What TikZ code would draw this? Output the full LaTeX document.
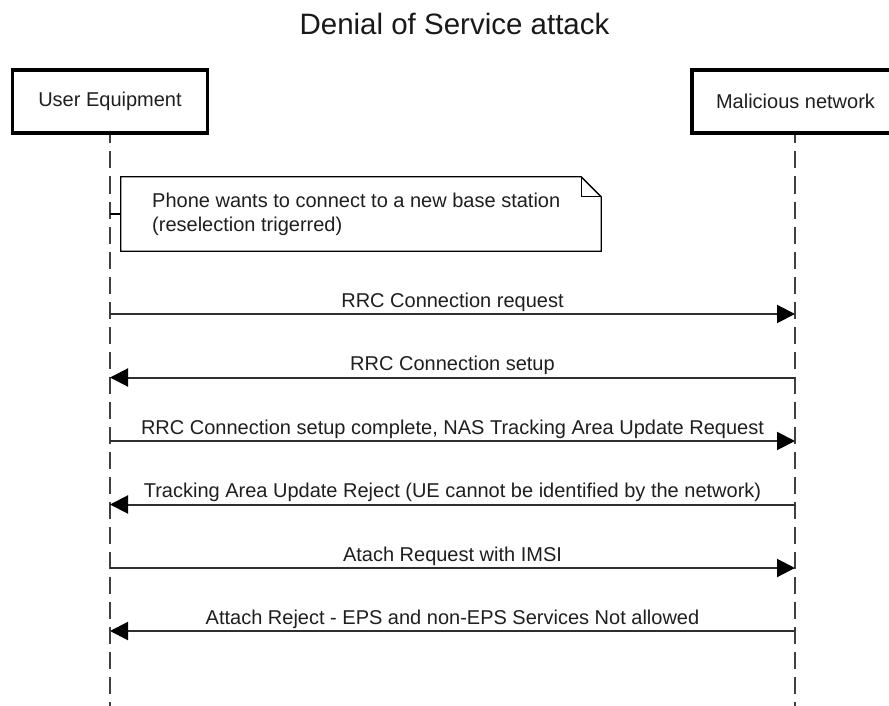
\documentclass[tikz,border=0pt]{standalone}
\usepackage{fontspec}
\setmainfont{Liberation Sans}
\usetikzlibrary{arrows.meta}
\begin{document}
\begin{tikzpicture}[x=1pt,y=-1pt,
  actor/.style={draw=black, line width=3.5pt, fill=white, minimum width=195pt, minimum height=63pt, inner sep=0pt, font=\fontsize{20}{24}\selectfont, text=black!88},
  life/.style={draw=black!75, line width=1.5pt, dash pattern=on 17pt off 8pt},
  msg/.style={draw=black!82, line width=2pt, -{Triangle[length=18pt,width=18pt,color=black,fill=black]}},
  lbl/.style={font=\fontsize{20}{24}\selectfont, text=black!88, anchor=base, inner sep=0pt},
  notetext/.style={font=\fontsize{20}{24}\selectfont, text=black!88, anchor=base west, inner sep=0pt},
  noteline/.style={draw=black, line width=1.3pt},
]
\useasboundingbox (0,0) rectangle (889,706);
\fill[white] (0,0) rectangle (889,706);
\clip (0,0) rectangle (889,706);

\node[font=\fontsize{29.5}{34}\selectfont, anchor=base, inner sep=0pt, text=black!90] (title) at (454.5,35) {Denial of Service attack};

% lifeline ends
\coordinate (ueend) at (110,706);
\coordinate (mnend) at (795,706);
\draw[life] (110,101.5) -- (ueend);
\draw[life] (795,101.5) -- (mnend);

% participants
\node[actor] (ue) at (110,101.5) {User Equipment};
\node[actor, minimum width=207pt] (mn) at (795.5,101.5) {Malicious network};

% note
\node[minimum width=480pt, minimum height=74pt, inner sep=0pt] (note) at (361,214) {};
\coordinate (notelink) at (110,214);
\draw[noteline] (notelink) -- (note.west);
\draw[noteline, fill=white] (note.south west) -- (note.north west) -- ([xshift=-20pt]note.north east) -- ([yshift=-20pt]note.north east) -- (note.south east) -- cycle;
\draw[noteline] ([xshift=-20pt]note.north east) -- ([xshift=-20pt,yshift=-20pt]note.north east) -- ([yshift=-20pt]note.north east);
\node[notetext] (notel1) at (152,207) {Phone wants to connect to a new base station};
\node[notetext] (notel2) at (152,231) {(reselection trigerred)};

% message points
\coordinate (u1) at (110,314);   \coordinate (n1) at (795,314);
\coordinate (u2) at (110,377.5); \coordinate (n2) at (795,377.5);
\coordinate (u3) at (110,441);   \coordinate (n3) at (795,441);
\coordinate (u4) at (110,504.5); \coordinate (n4) at (795,504.5);
\coordinate (u5) at (110,568);   \coordinate (n5) at (795,568);
\coordinate (u6) at (110,631);   \coordinate (n6) at (795,631);

\draw[msg] (u1) -- node[lbl, midway, yshift=7pt] (m1) {RRC Connection request} (n1);
\draw[msg] (n2) -- node[lbl, midway, yshift=7pt] (m2) {RRC Connection setup} (u2);
\draw[msg] (u3) -- node[lbl, midway, yshift=7pt] (m3) {RRC Connection setup complete, NAS Tracking Area Update Request} (n3);
\draw[msg] (n4) -- node[lbl, midway, yshift=7pt] (m4) {Tracking Area Update Reject (UE cannot be identified by the network)} (u4);
\draw[msg] (u5) -- node[lbl, midway, yshift=7pt] (m5) {Atach Request with IMSI} (n5);
\draw[msg] (n6) -- node[lbl, midway, yshift=7pt] (m6) {Attach Reject - EPS and non-EPS Services Not allowed} (u6);
\end{tikzpicture}
\end{document}
